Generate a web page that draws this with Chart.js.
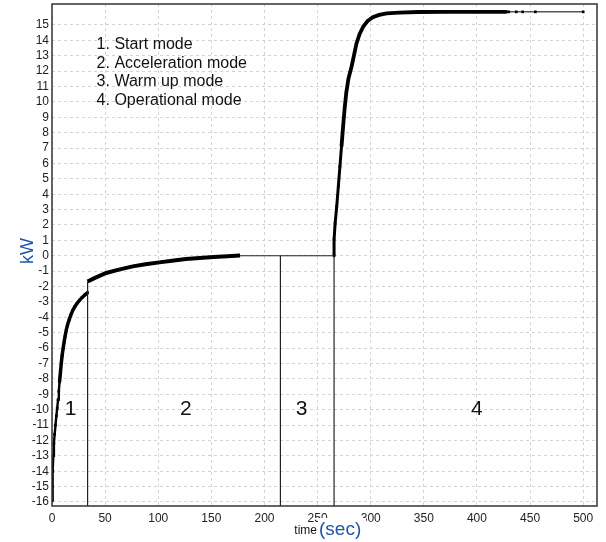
<!DOCTYPE html>
<html><head><meta charset="utf-8">
<script src="https://cdn.jsdelivr.net/npm/chart.js@4.4.0/dist/chart.umd.min.js"></script>
<style>html,body{margin:0;padding:0;background:#fff;}</style>
</head><body>
<canvas id="c" width="606" height="542" style="display:block;width:606px;height:542px"></canvas>
<script>
// ---- data ----
const startTime = [0,0.4,0.8,1.2,1.8,2.5,3.3,4.1,4.9,5.7,6.4,7.1,7.9,8.7,9.5,10.4,11.4,12.4,13.5,14.8,16.2,17.7,19.5,21.5,23.5,25.8,28.2,30.8,33.5];
const startKW   = [-15.9,-15.0,-14.0,-13.0,-12.2,-11.6,-11.0,-10.4,-9.9,-9.35,-8.8,-8.2,-7.6,-7.0,-6.5,-6.05,-5.6,-5.2,-4.8,-4.45,-4.15,-3.85,-3.55,-3.3,-3.1,-2.9,-2.72,-2.55,-2.4];
const accelTime = [33.5,40,51,63,76,88,101,113,126,139,152,165,177];
const accelKW   = [-1.67,-1.45,-1.12,-0.9,-0.69,-0.55,-0.43,-0.32,-0.21,-0.14,-0.08,-0.03,0.02];
const opTime = [265.5,265.5,266.5,268,269.5,271,272.5,274,275.5,277,279,282,284.5,286.6,289.5,293,297,302,308,315,327,345,370,400,428,430,437,443,455,500];
const opKW   = [0,1.04,2.1,3.2,4.5,5.8,7.1,8.4,9.6,10.6,11.5,12.3,13.1,13.8,14.4,14.9,15.25,15.5,15.65,15.75,15.8,15.84,15.85,15.85,15.85,15.85,15.85,15.85,15.85,15.85];
const modeBounds = [33.5, 215, 265.5];      // vertical mode separators (sec)
const modeBoundTops = [-1.67, 0, 0];         // where each separator meets the curve (kW)
const holdLineTime = [177, 265.5];           // thin line at 0 kW
const holdLineKW = [0, 0];
const xTicks = [0,50,100,150,200,250,300,350,400,450,500];
const yTicks = [-16,-15,-14,-13,-12,-11,-10,-9,-8,-7,-6,-5,-4,-3,-2,-1,0,1,2,3,4,5,6,7,8,9,10,11,12,13,14,15];
const modeLabels = ['1','2','3','4'];
const modeLabelTime = [17.5,126,235,400];
const modeLabelKW = -10;
const legendLines = ['1. Start mode','2. Acceleration mode','3. Warm up mode','4. Operational mode'];
const legendTime = 42;
const legendKW = [13.7,12.5,11.3,10.1];
const X_MIN = 0, X_MAX = 513, Y_MIN = -16.26, Y_MAX = 16.36;

const pts = (xs, ys) => xs.map((v,i)=>({x:v, y:ys[i]}));
const LINE = '#222';
const datasets = [];
modeBounds.forEach((b,i)=>{
  datasets.push({data:[{x:b,y:Y_MIN},{x:b,y:modeBoundTops[i]}], showLine:true, borderColor:LINE, borderWidth:1.2, pointRadius:0});
});
datasets.push({data:pts(holdLineTime,holdLineKW), showLine:true, borderColor:LINE, borderWidth:1.2, pointRadius:0});
datasets.push({data:pts(startTime,startKW), showLine:true, borderColor:'#000', borderWidth:3.5,
  pointStyle:'rect', pointRadius:1.9, pointBackgroundColor:'#000', pointBorderWidth:0,
  segment:{borderWidth:c=> c.p0.parsed.y < -8.5 ? 2.4 : 3.5}});
datasets.push({data:pts(accelTime,accelKW), showLine:true, borderColor:'#000', borderWidth:4, pointRadius:0});
datasets.push({data:pts(opTime,opKW), showLine:true, borderColor:'#000', borderWidth:3.5,
  pointStyle:'rect', pointRadius:1.9, pointBackgroundColor:'#000', pointBorderWidth:0,
  segment:{borderWidth:c=> (c.p0.parsed.x >= 428 ? 1 : (c.p0.parsed.y < 7 ? 3 : 3.8))}});
datasets.push({data:[{x:0,y:0}], pointStyle:'rect', pointRadius:1.2, pointBackgroundColor:'#d02030', pointBorderWidth:0});

const annot = {
  id:'annot',
  afterDraw(chart){
    const {ctx, scales:{x,y}, chartArea:a} = chart;
    ctx.save();
    ctx.strokeStyle='#333'; ctx.lineWidth=1.5;
    ctx.strokeRect(a.left, a.top, a.right-a.left, a.bottom-a.top);
    ctx.fillStyle='#111'; ctx.textBaseline='middle'; ctx.textAlign='left';
    ctx.font='16px "Liberation Sans", Arial';
    legendLines.forEach((s,i)=>ctx.fillText(s, x.getPixelForValue(legendTime), y.getPixelForValue(legendKW[i])));
    ctx.font='21px "Liberation Sans", Arial'; ctx.textAlign='center';
    modeLabels.forEach((s,i)=>ctx.fillText(s, x.getPixelForValue(modeLabelTime[i]), y.getPixelForValue(modeLabelKW)));
    // axis titles
    ctx.fillStyle='#fff';
    ctx.fillRect(291,524,27,18); ctx.fillRect(318,518,48,24);
    ctx.fillStyle='#111'; ctx.font='12px "Liberation Sans", Arial'; ctx.textAlign='right';
    ctx.fillText('time', 317, 531);
    ctx.fillStyle='#1c56a6'; ctx.font='19px "Liberation Sans", Arial'; ctx.textAlign='left';
    ctx.fillText('(sec)', 319, 530);
    ctx.translate(28, 251); ctx.rotate(-Math.PI/2);
    ctx.font='18px "Liberation Sans", Arial'; ctx.textAlign='center';
    ctx.fillText('kW', 0, 0);
    ctx.restore();
  }
};

new Chart(document.getElementById('c'), {
  type:'scatter',
  data:{datasets},
  options:{
    responsive:false, animation:false, devicePixelRatio:1,
    layout:{padding:{top:4,right:9,left:0,bottom:0}},
    plugins:{legend:{display:false}, tooltip:{enabled:false}},
    scales:{
      x:{type:'linear', min:X_MIN, max:X_MAX,
        afterBuildTicks:s=>{s.ticks = xTicks.map(v=>({value:v}));},
        afterFit:s=>{s.height=36; s.paddingLeft=0; s.paddingRight=0;},
        grid:{color:'#d4d4d4', drawTicks:false, lineWidth:1},
        border:{display:false, dash:[3,3]},
        ticks:{padding:5, color:'#222', font:{size:12, family:'"Liberation Sans", Arial'}, maxRotation:0, autoSkip:false}},
      y:{type:'linear', min:Y_MIN, max:Y_MAX,
        afterBuildTicks:s=>{s.ticks = yTicks.map(v=>({value:v}));},
        afterFit:s=>{s.width=52; s.paddingTop=0; s.paddingBottom=0;},
        grid:{color:'#d4d4d4', drawTicks:false, lineWidth:1},
        border:{display:false, dash:[3,3]},
        ticks:{padding:3, color:'#222', font:{size:12, family:'"Liberation Sans", Arial'}, autoSkip:false}}
    }
  },
  plugins:[annot]
});
</script>
</body></html>
